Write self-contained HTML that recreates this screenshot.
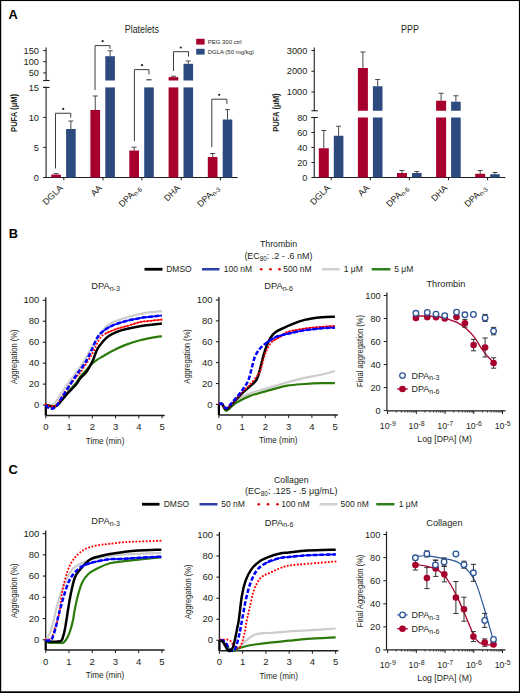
<!DOCTYPE html>
<html><head><meta charset="utf-8"><style>
html,body{margin:0;padding:0;background:#fff;width:520px;height:693px;overflow:hidden}
svg{display:block;font-family:"Liberation Sans", sans-serif}
text{stroke:none}
</style></head><body>
<svg width="520" height="693" viewBox="0 0 520 693">
<rect width="520" height="693" fill="#fff"/>
<rect x="0" y="0" width="520" height="1.05" fill="#000"/>
<rect x="0" y="0" width="1.2" height="693" fill="#000"/>
<rect x="518.9" y="0" width="1.1" height="693" fill="#000"/>
<rect x="0" y="691.3" width="520" height="1.7" fill="#000"/>
<text x="8.6" y="18.7" font-size="12.8" text-anchor="start" font-weight="bold" fill="#000" >A</text>
<text x="8.8" y="238.3" font-size="12.8" text-anchor="start" font-weight="bold" fill="#000" >B</text>
<text x="8.6" y="473.5" font-size="12.8" text-anchor="start" font-weight="bold" fill="#000" >C</text>
<line x1="46.1" y1="47.4" x2="46.1" y2="80.5" stroke="#1e1e1e" stroke-width="1.1" />
<line x1="46.1" y1="87.4" x2="46.1" y2="178" stroke="#1e1e1e" stroke-width="1.1" />
<line x1="43.2" y1="50.6" x2="46.1" y2="50.6" stroke="#1e1e1e" stroke-width="1" />
<text transform="translate(38.9,53.7) scale(1.05,1)" font-size="8.8" text-anchor="end" font-weight="normal" fill="#231f20" >150</text>
<line x1="43.2" y1="61.6" x2="46.1" y2="61.6" stroke="#1e1e1e" stroke-width="1" />
<text transform="translate(38.9,64.7) scale(1.05,1)" font-size="8.8" text-anchor="end" font-weight="normal" fill="#231f20" >100</text>
<line x1="43.2" y1="72.9" x2="46.1" y2="72.9" stroke="#1e1e1e" stroke-width="1" />
<text transform="translate(38.9,76) scale(1.05,1)" font-size="8.8" text-anchor="end" font-weight="normal" fill="#231f20" >50</text>
<line x1="43.2" y1="80.5" x2="49.6" y2="80.5" stroke="#1e1e1e" stroke-width="1.1" />
<line x1="43.2" y1="87.4" x2="49.6" y2="87.4" stroke="#1e1e1e" stroke-width="1.1" />
<line x1="43.2" y1="87.4" x2="46.1" y2="87.4" stroke="#1e1e1e" stroke-width="1" />
<text transform="translate(38.9,90.5) scale(1.05,1)" font-size="8.8" text-anchor="end" font-weight="normal" fill="#231f20" >15</text>
<line x1="43.2" y1="117.4" x2="46.1" y2="117.4" stroke="#1e1e1e" stroke-width="1" />
<text transform="translate(38.9,120.5) scale(1.05,1)" font-size="8.8" text-anchor="end" font-weight="normal" fill="#231f20" >10</text>
<line x1="43.2" y1="147.4" x2="46.1" y2="147.4" stroke="#1e1e1e" stroke-width="1" />
<text transform="translate(38.9,150.5) scale(1.05,1)" font-size="8.8" text-anchor="end" font-weight="normal" fill="#231f20" >5</text>
<line x1="43.2" y1="177.5" x2="46.1" y2="177.5" stroke="#1e1e1e" stroke-width="1" />
<text transform="translate(38.9,180.6) scale(1.05,1)" font-size="8.8" text-anchor="end" font-weight="normal" fill="#231f20" >0</text>
<line x1="46.1" y1="177.5" x2="237.7" y2="177.5" stroke="#1e1e1e" stroke-width="1.1" />
<line x1="63.8" y1="177.5" x2="63.8" y2="180.3" stroke="#1e1e1e" stroke-width="1" />
<line x1="103" y1="177.5" x2="103" y2="180.3" stroke="#1e1e1e" stroke-width="1" />
<line x1="141.9" y1="177.5" x2="141.9" y2="180.3" stroke="#1e1e1e" stroke-width="1" />
<line x1="181.2" y1="177.5" x2="181.2" y2="180.3" stroke="#1e1e1e" stroke-width="1" />
<line x1="220.4" y1="177.5" x2="220.4" y2="180.3" stroke="#1e1e1e" stroke-width="1" />
<text transform="translate(141.8,32.6) scale(0.89,1)" font-size="10" text-anchor="middle" font-weight="normal" fill="#231f20" >Platelets</text>
<rect x="196.2" y="38.8" width="8.4" height="5.8" fill="#a8002c" />
<rect x="196.2" y="48.8" width="8.4" height="5.8" fill="#2d4a7e" />
<text x="207.7" y="44.2" font-size="6.0" text-anchor="start" font-weight="normal" fill="#231f20" >PEG 300 ctrl</text>
<text x="207.7" y="54.2" font-size="6.0" text-anchor="start" font-weight="normal" fill="#231f20" >DGLA (50 mg/kg)</text>
<text transform="translate(16.7,112.9) rotate(-90)" font-size="9.4" font-weight="bold" text-anchor="middle" fill="#231f20" textLength="38" lengthAdjust="spacingAndGlyphs">PUFA (μM)</text>
<line x1="56.05" y1="174.6" x2="56.05" y2="173.6" stroke="#4a4a4a" stroke-width="1" />
<line x1="53.55" y1="173.6" x2="58.55" y2="173.6" stroke="#4a4a4a" stroke-width="1" />
<rect x="51.2" y="174.6" width="9.7" height="2.9" fill="#a8002c" />
<line x1="70.9" y1="129" x2="70.9" y2="121" stroke="#4a4a4a" stroke-width="1" />
<line x1="68.4" y1="121" x2="73.4" y2="121" stroke="#4a4a4a" stroke-width="1" />
<rect x="66.1" y="129" width="9.6" height="48.5" fill="#2d4a7e" />
<line x1="95.25" y1="110" x2="95.25" y2="96" stroke="#4a4a4a" stroke-width="1" />
<line x1="92.75" y1="96" x2="97.75" y2="96" stroke="#4a4a4a" stroke-width="1" />
<rect x="90.4" y="110" width="9.7" height="67.5" fill="#a8002c" />
<rect x="105.3" y="87.4" width="9.6" height="90.1" fill="#2d4a7e" />
<line x1="110.1" y1="56.2" x2="110.1" y2="50.8" stroke="#4a4a4a" stroke-width="1" />
<line x1="107.6" y1="50.8" x2="112.6" y2="50.8" stroke="#4a4a4a" stroke-width="1" />
<rect x="105.3" y="56.2" width="9.6" height="24.3" fill="#2d4a7e" />
<line x1="134.15" y1="150.5" x2="134.15" y2="147.2" stroke="#4a4a4a" stroke-width="1" />
<line x1="131.65" y1="147.2" x2="136.65" y2="147.2" stroke="#4a4a4a" stroke-width="1" />
<rect x="129.3" y="150.5" width="9.7" height="27" fill="#a8002c" />
<rect x="144.2" y="87.4" width="9.6" height="90.1" fill="#2d4a7e" />
<line x1="146.4" y1="79.8" x2="151.6" y2="79.8" stroke="#3a3a3a" stroke-width="1.2" />
<rect x="168.6" y="87.4" width="9.7" height="90.1" fill="#a8002c" />
<line x1="173.45" y1="77.1" x2="173.45" y2="76.2" stroke="#4a4a4a" stroke-width="1" />
<line x1="170.95" y1="76.2" x2="175.95" y2="76.2" stroke="#4a4a4a" stroke-width="1" />
<rect x="168.6" y="77.1" width="9.7" height="3.4" fill="#a8002c" />
<rect x="183.5" y="87.4" width="9.6" height="90.1" fill="#2d4a7e" />
<line x1="188.3" y1="63.8" x2="188.3" y2="61" stroke="#4a4a4a" stroke-width="1" />
<line x1="185.8" y1="61" x2="190.8" y2="61" stroke="#4a4a4a" stroke-width="1" />
<rect x="183.5" y="63.8" width="9.6" height="16.7" fill="#2d4a7e" />
<line x1="212.65" y1="157" x2="212.65" y2="153.5" stroke="#4a4a4a" stroke-width="1" />
<line x1="210.15" y1="153.5" x2="215.15" y2="153.5" stroke="#4a4a4a" stroke-width="1" />
<rect x="207.8" y="157" width="9.7" height="20.5" fill="#a8002c" />
<line x1="227.5" y1="119.5" x2="227.5" y2="109.6" stroke="#4a4a4a" stroke-width="1" />
<line x1="225" y1="109.6" x2="230" y2="109.6" stroke="#4a4a4a" stroke-width="1" />
<rect x="222.7" y="119.5" width="9.6" height="58" fill="#2d4a7e" />
<polyline points="55.5,168.5 55.5,113.25 70.75,113.25 70.75,117.5" fill="none" stroke="#3c3c3c" stroke-width="1"/>
<circle cx="63.25" cy="108.9" r="1.1" fill="#222"/>
<polyline points="95,90 95,45.6 110,45.6 110,48.8" fill="none" stroke="#3c3c3c" stroke-width="1"/>
<circle cx="102.7" cy="41.2" r="1.1" fill="#222"/>
<polyline points="134.4,141.2 134.4,69.6 149,69.6 149,74.4" fill="none" stroke="#3c3c3c" stroke-width="1"/>
<circle cx="142" cy="65.2" r="1.1" fill="#222"/>
<polyline points="173.5,71 173.5,51.7 188.5,51.7 188.5,56.5" fill="none" stroke="#3c3c3c" stroke-width="1"/>
<circle cx="180.8" cy="47.5" r="1.1" fill="#222"/>
<polyline points="211.8,147.2 211.8,99.2 226.9,99.2 226.9,103.8" fill="none" stroke="#3c3c3c" stroke-width="1"/>
<circle cx="219.2" cy="94.8" r="1.1" fill="#222"/>
<text transform="translate(63.3,188.5) rotate(-45)" font-size="8.8" text-anchor="end" fill="#231f20">DGLA</text>
<text transform="translate(102.5,188.5) rotate(-45)" font-size="8.8" text-anchor="end" fill="#231f20">AA</text>
<text transform="translate(141.4,188.5) rotate(-45)" font-size="8.8" text-anchor="end" fill="#231f20">DPA<tspan font-size="6.6" dy="1.8">n-6</tspan></text>
<text transform="translate(180.7,188.5) rotate(-45)" font-size="8.8" text-anchor="end" fill="#231f20">DHA</text>
<text transform="translate(219.9,188.5) rotate(-45)" font-size="8.8" text-anchor="end" fill="#231f20">DPA<tspan font-size="6.6" dy="1.8">n-3</tspan></text>
<line x1="314.25" y1="47.5" x2="314.25" y2="110.75" stroke="#1e1e1e" stroke-width="1.1" />
<line x1="314.25" y1="117.5" x2="314.25" y2="178" stroke="#1e1e1e" stroke-width="1.1" />
<line x1="311.4" y1="50.5" x2="314.25" y2="50.5" stroke="#1e1e1e" stroke-width="1" />
<text transform="translate(307.4,53.6) scale(1.05,1)" font-size="8.8" text-anchor="end" font-weight="normal" fill="#231f20" >3000</text>
<line x1="311.4" y1="71.25" x2="314.25" y2="71.25" stroke="#1e1e1e" stroke-width="1" />
<text transform="translate(307.4,74.35) scale(1.05,1)" font-size="8.8" text-anchor="end" font-weight="normal" fill="#231f20" >2000</text>
<line x1="311.4" y1="92" x2="314.25" y2="92" stroke="#1e1e1e" stroke-width="1" />
<text transform="translate(307.4,95.1) scale(1.05,1)" font-size="8.8" text-anchor="end" font-weight="normal" fill="#231f20" >1000</text>
<line x1="311.4" y1="110.75" x2="317.8" y2="110.75" stroke="#1e1e1e" stroke-width="1.1" />
<line x1="311.4" y1="117.5" x2="317.8" y2="117.5" stroke="#1e1e1e" stroke-width="1.1" />
<line x1="311.4" y1="117.5" x2="314.25" y2="117.5" stroke="#1e1e1e" stroke-width="1" />
<text transform="translate(307.4,120.6) scale(1.05,1)" font-size="8.8" text-anchor="end" font-weight="normal" fill="#231f20" >80</text>
<line x1="311.4" y1="132.5" x2="314.25" y2="132.5" stroke="#1e1e1e" stroke-width="1" />
<text transform="translate(307.4,135.6) scale(1.05,1)" font-size="8.8" text-anchor="end" font-weight="normal" fill="#231f20" >60</text>
<line x1="311.4" y1="147.5" x2="314.25" y2="147.5" stroke="#1e1e1e" stroke-width="1" />
<text transform="translate(307.4,150.6) scale(1.05,1)" font-size="8.8" text-anchor="end" font-weight="normal" fill="#231f20" >40</text>
<line x1="311.4" y1="162.5" x2="314.25" y2="162.5" stroke="#1e1e1e" stroke-width="1" />
<text transform="translate(307.4,165.6) scale(1.05,1)" font-size="8.8" text-anchor="end" font-weight="normal" fill="#231f20" >20</text>
<line x1="311.4" y1="177.5" x2="314.25" y2="177.5" stroke="#1e1e1e" stroke-width="1" />
<text transform="translate(307.4,180.6) scale(1.05,1)" font-size="8.8" text-anchor="end" font-weight="normal" fill="#231f20" >0</text>
<line x1="314.25" y1="177.5" x2="505.5" y2="177.5" stroke="#1e1e1e" stroke-width="1.1" />
<line x1="331.2" y1="177.5" x2="331.2" y2="180.3" stroke="#1e1e1e" stroke-width="1" />
<line x1="370.3" y1="177.5" x2="370.3" y2="180.3" stroke="#1e1e1e" stroke-width="1" />
<line x1="409.4" y1="177.5" x2="409.4" y2="180.3" stroke="#1e1e1e" stroke-width="1" />
<line x1="448.5" y1="177.5" x2="448.5" y2="180.3" stroke="#1e1e1e" stroke-width="1" />
<line x1="487.6" y1="177.5" x2="487.6" y2="180.3" stroke="#1e1e1e" stroke-width="1" />
<text transform="translate(410,32.6) scale(0.89,1)" font-size="10" text-anchor="middle" font-weight="normal" fill="#231f20" >PPP</text>
<text transform="translate(279.3,112.6) rotate(-90)" font-size="9.4" font-weight="bold" text-anchor="middle" fill="#231f20" textLength="38.5" lengthAdjust="spacingAndGlyphs">PUFA (μM)</text>
<line x1="323.8" y1="148.25" x2="323.8" y2="130.5" stroke="#4a4a4a" stroke-width="1" />
<line x1="321.3" y1="130.5" x2="326.3" y2="130.5" stroke="#4a4a4a" stroke-width="1" />
<rect x="318.8" y="148.25" width="10" height="29.25" fill="#a8002c" />
<line x1="338.6" y1="135.75" x2="338.6" y2="126.25" stroke="#4a4a4a" stroke-width="1" />
<line x1="336.1" y1="126.25" x2="341.1" y2="126.25" stroke="#4a4a4a" stroke-width="1" />
<rect x="333.8" y="135.75" width="9.6" height="41.75" fill="#2d4a7e" />
<rect x="357.9" y="117.5" width="10" height="60" fill="#a8002c" />
<line x1="362.9" y1="68" x2="362.9" y2="52" stroke="#4a4a4a" stroke-width="1" />
<line x1="360.4" y1="52" x2="365.4" y2="52" stroke="#4a4a4a" stroke-width="1" />
<rect x="357.9" y="68" width="10" height="42.75" fill="#a8002c" />
<rect x="372.9" y="117.5" width="9.6" height="60" fill="#2d4a7e" />
<line x1="377.7" y1="86.25" x2="377.7" y2="79.5" stroke="#4a4a4a" stroke-width="1" />
<line x1="375.2" y1="79.5" x2="380.2" y2="79.5" stroke="#4a4a4a" stroke-width="1" />
<rect x="372.9" y="86.25" width="9.6" height="24.5" fill="#2d4a7e" />
<line x1="402" y1="173" x2="402" y2="170.5" stroke="#4a4a4a" stroke-width="1" />
<line x1="399.5" y1="170.5" x2="404.5" y2="170.5" stroke="#4a4a4a" stroke-width="1" />
<rect x="397" y="173" width="10" height="4.5" fill="#a8002c" />
<line x1="416.8" y1="173" x2="416.8" y2="171.5" stroke="#4a4a4a" stroke-width="1" />
<line x1="414.3" y1="171.5" x2="419.3" y2="171.5" stroke="#4a4a4a" stroke-width="1" />
<rect x="412" y="173" width="9.6" height="4.5" fill="#2d4a7e" />
<rect x="436.1" y="117.5" width="10" height="60" fill="#a8002c" />
<line x1="441.1" y1="100.75" x2="441.1" y2="93.25" stroke="#4a4a4a" stroke-width="1" />
<line x1="438.6" y1="93.25" x2="443.6" y2="93.25" stroke="#4a4a4a" stroke-width="1" />
<rect x="436.1" y="100.75" width="10" height="10" fill="#a8002c" />
<rect x="451.1" y="117.5" width="9.6" height="60" fill="#2d4a7e" />
<line x1="455.9" y1="101.75" x2="455.9" y2="95.75" stroke="#4a4a4a" stroke-width="1" />
<line x1="453.4" y1="95.75" x2="458.4" y2="95.75" stroke="#4a4a4a" stroke-width="1" />
<rect x="451.1" y="101.75" width="9.6" height="9" fill="#2d4a7e" />
<line x1="480.2" y1="173.75" x2="480.2" y2="170.5" stroke="#4a4a4a" stroke-width="1" />
<line x1="477.7" y1="170.5" x2="482.7" y2="170.5" stroke="#4a4a4a" stroke-width="1" />
<rect x="475.2" y="173.75" width="10" height="3.75" fill="#a8002c" />
<line x1="495" y1="174.25" x2="495" y2="172.5" stroke="#4a4a4a" stroke-width="1" />
<line x1="492.5" y1="172.5" x2="497.5" y2="172.5" stroke="#4a4a4a" stroke-width="1" />
<rect x="490.2" y="174.25" width="9.6" height="3.25" fill="#2d4a7e" />
<text transform="translate(330.7,188.5) rotate(-45)" font-size="8.8" text-anchor="end" fill="#231f20">DGLA</text>
<text transform="translate(369.8,188.5) rotate(-45)" font-size="8.8" text-anchor="end" fill="#231f20">AA</text>
<text transform="translate(408.9,188.5) rotate(-45)" font-size="8.8" text-anchor="end" fill="#231f20">DPA<tspan font-size="6.6" dy="1.8">n-6</tspan></text>
<text transform="translate(448,188.5) rotate(-45)" font-size="8.8" text-anchor="end" fill="#231f20">DHA</text>
<text transform="translate(487.1,188.5) rotate(-45)" font-size="8.8" text-anchor="end" fill="#231f20">DPA<tspan font-size="6.6" dy="1.8">n-3</tspan></text>
<text transform="translate(278.5,247) scale(0.89,1)" font-size="9.9" text-anchor="middle" font-weight="normal" fill="#231f20" >Thrombin</text>
<text transform="translate(278.4,258.7) scale(0.93,1)" font-size="9.6" text-anchor="middle" font-weight="normal" fill="#231f20" >(EC<tspan font-size="6.8" dy="1.8">80</tspan><tspan dy="-1.8">: .2 - .6 nM)</tspan></text>
<line x1="144.5" y1="269.25" x2="162.5" y2="269.25" stroke="#000" stroke-width="2.8" />
<text x="166.2" y="272.25" font-size="8.5" text-anchor="start" font-weight="normal" fill="#231f20" >DMSO</text>
<line x1="202" y1="269.25" x2="219.5" y2="269.25" stroke="#2a40a8" stroke-width="2.5" />
<text x="223.7" y="272.25" font-size="8.5" text-anchor="start" font-weight="normal" fill="#231f20" >100 nM</text>
<circle cx="261.25" cy="269.25" r="1.3" fill="#e00000"/>
<circle cx="270.5" cy="269.25" r="1.3" fill="#e00000"/>
<circle cx="279.5" cy="269.25" r="1.3" fill="#e00000"/>
<text x="283.2" y="272.25" font-size="8.5" text-anchor="start" font-weight="normal" fill="#231f20" >500 nM</text>
<line x1="322" y1="269.25" x2="339.5" y2="269.25" stroke="#d0d0d0" stroke-width="2.5" />
<text x="343.7" y="272.25" font-size="8.5" text-anchor="start" font-weight="normal" fill="#231f20" >1 μM</text>
<line x1="371.7" y1="269.25" x2="390.4" y2="269.25" stroke="#2f7f1a" stroke-width="2.5" />
<text x="394.2" y="272.25" font-size="8.5" text-anchor="start" font-weight="normal" fill="#231f20" >5 μM</text>
<text transform="translate(291.25,483) scale(0.89,1)" font-size="9.9" text-anchor="middle" font-weight="normal" fill="#231f20" >Collagen</text>
<text transform="translate(291.25,493.7) scale(0.95,1)" font-size="9.6" text-anchor="middle" font-weight="normal" fill="#231f20" >(EC<tspan font-size="6.8" dy="1.8">80</tspan><tspan dy="-1.8">: .125 - .5 μg/mL)</tspan></text>
<line x1="142" y1="504.25" x2="159.5" y2="504.25" stroke="#000" stroke-width="2.8" />
<text x="163.7" y="507.25" font-size="8.5" text-anchor="start" font-weight="normal" fill="#231f20" >DMSO</text>
<line x1="199.5" y1="504.25" x2="217.5" y2="504.25" stroke="#2a40a8" stroke-width="2.5" />
<text x="221.2" y="507.25" font-size="8.5" text-anchor="start" font-weight="normal" fill="#231f20" >50 nM</text>
<circle cx="258.75" cy="504.25" r="1.3" fill="#e00000"/>
<circle cx="268" cy="504.25" r="1.3" fill="#e00000"/>
<circle cx="277.5" cy="504.25" r="1.3" fill="#e00000"/>
<text x="281.2" y="507.25" font-size="8.5" text-anchor="start" font-weight="normal" fill="#231f20" >100 nM</text>
<line x1="319.5" y1="504.25" x2="337.5" y2="504.25" stroke="#d0d0d0" stroke-width="2.5" />
<text x="340.5" y="507.25" font-size="8.5" text-anchor="start" font-weight="normal" fill="#231f20" >500 nM</text>
<line x1="376.25" y1="504.25" x2="394.5" y2="504.25" stroke="#2f7f1a" stroke-width="2.5" />
<text x="398.7" y="507.25" font-size="8.5" text-anchor="start" font-weight="normal" fill="#231f20" >1 μM</text>
<line x1="45.8" y1="297.3" x2="45.8" y2="415.4" stroke="#1e1e1e" stroke-width="1.3" />
<line x1="45.8" y1="405.1" x2="45.8" y2="415.4" stroke="#000" stroke-width="2.2" />
<line x1="42.8" y1="405.1" x2="45.8" y2="405.1" stroke="#1e1e1e" stroke-width="1.1" />
<text transform="translate(39.4,408.2) scale(1.07,1)" font-size="8.9" text-anchor="end" font-weight="normal" fill="#231f20" >0</text>
<line x1="42.8" y1="384.14" x2="45.8" y2="384.14" stroke="#1e1e1e" stroke-width="1.1" />
<text transform="translate(39.4,387.24) scale(1.07,1)" font-size="8.9" text-anchor="end" font-weight="normal" fill="#231f20" >20</text>
<line x1="42.8" y1="363.18" x2="45.8" y2="363.18" stroke="#1e1e1e" stroke-width="1.1" />
<text transform="translate(39.4,366.28) scale(1.07,1)" font-size="8.9" text-anchor="end" font-weight="normal" fill="#231f20" >40</text>
<line x1="42.8" y1="342.22" x2="45.8" y2="342.22" stroke="#1e1e1e" stroke-width="1.1" />
<text transform="translate(39.4,345.32) scale(1.07,1)" font-size="8.9" text-anchor="end" font-weight="normal" fill="#231f20" >60</text>
<line x1="42.8" y1="321.26" x2="45.8" y2="321.26" stroke="#1e1e1e" stroke-width="1.1" />
<text transform="translate(39.4,324.36) scale(1.07,1)" font-size="8.9" text-anchor="end" font-weight="normal" fill="#231f20" >80</text>
<line x1="42.8" y1="300.3" x2="45.8" y2="300.3" stroke="#1e1e1e" stroke-width="1.1" />
<text transform="translate(39.4,303.4) scale(1.07,1)" font-size="8.9" text-anchor="end" font-weight="normal" fill="#231f20" >100</text>
<line x1="45.8" y1="415.4" x2="164.75" y2="415.4" stroke="#1e1e1e" stroke-width="1.5" />
<line x1="45.8" y1="415.4" x2="45.8" y2="418.4" stroke="#1e1e1e" stroke-width="1" />
<text transform="translate(45.8,430) scale(1.07,1)" font-size="8.9" text-anchor="middle" font-weight="normal" fill="#231f20" >0</text>
<line x1="69.05" y1="415.4" x2="69.05" y2="418.4" stroke="#1e1e1e" stroke-width="1" />
<text transform="translate(69.05,430) scale(1.07,1)" font-size="8.9" text-anchor="middle" font-weight="normal" fill="#231f20" >1</text>
<line x1="92.3" y1="415.4" x2="92.3" y2="418.4" stroke="#1e1e1e" stroke-width="1" />
<text transform="translate(92.3,430) scale(1.07,1)" font-size="8.9" text-anchor="middle" font-weight="normal" fill="#231f20" >2</text>
<line x1="115.55" y1="415.4" x2="115.55" y2="418.4" stroke="#1e1e1e" stroke-width="1" />
<text transform="translate(115.55,430) scale(1.07,1)" font-size="8.9" text-anchor="middle" font-weight="normal" fill="#231f20" >3</text>
<line x1="138.8" y1="415.4" x2="138.8" y2="418.4" stroke="#1e1e1e" stroke-width="1" />
<text transform="translate(138.8,430) scale(1.07,1)" font-size="8.9" text-anchor="middle" font-weight="normal" fill="#231f20" >4</text>
<line x1="162.05" y1="415.4" x2="162.05" y2="418.4" stroke="#1e1e1e" stroke-width="1" />
<text transform="translate(162.05,430) scale(1.07,1)" font-size="8.9" text-anchor="middle" font-weight="normal" fill="#231f20" >5</text>
<text x="105.1" y="443.6" font-size="9.2" text-anchor="middle" font-weight="normal" fill="#231f20" textLength="38.5" lengthAdjust="spacingAndGlyphs">Time (min)</text>
<text transform="translate(17.2,356.75) rotate(-90)" font-size="9.2" text-anchor="middle" fill="#231f20" textLength="54.5" lengthAdjust="spacingAndGlyphs">Aggregation (%)</text>
<text x="105.5" y="288.8" font-size="9.3" text-anchor="middle" font-weight="normal" fill="#231f20" >DPA<tspan font-size="7.0" dy="1.8">n-3</tspan></text>
<path d="M45.7,405 C46.42,405 48.55,405.25 50,405 C51.45,404.75 52.47,405.5 54.4,403.5 C56.33,401.5 59.18,396.55 61.6,393 C64.02,389.45 66.25,385.87 68.9,382.2 C71.55,378.53 74.82,374.78 77.5,371 C80.18,367.22 82.58,363.5 85,359.5 C87.42,355.5 89.5,351.17 92,347 C94.5,342.83 97.77,337.75 100,334.5 C102.23,331.25 103.53,329.42 105.4,327.5 C107.27,325.58 107.73,324.67 111.2,323 C114.67,321.33 121.4,319 126.2,317.5 C131,316 136.52,314.82 140,314 C143.48,313.18 143.45,313.08 147.1,312.6 C150.75,312.12 159.43,311.35 161.9,311.1" fill="none" stroke="#cccccc" stroke-width="2.2" stroke-linecap="butt" stroke-linejoin="round" />
<path d="M45.7,405 C46.42,405.17 48.55,405.75 50,406 C51.45,406.25 52.93,407 54.4,406.5 C55.87,406 56.87,405.08 58.8,403 C60.73,400.92 63.12,397.33 66,394 C68.88,390.67 73.77,385.83 76.1,383 C78.43,380.17 78.35,379.08 80,377 C81.65,374.92 84.08,372.63 86,370.5 C87.92,368.37 89.67,365.98 91.5,364.2 C93.33,362.42 95.07,361.13 97,359.8 C98.93,358.47 100.17,357.87 103.1,356.2 C106.03,354.53 110.75,351.73 114.6,349.8 C118.45,347.87 121.97,346.2 126.2,344.6 C130.43,343 135.4,341.42 140,340.2 C144.6,338.98 150.15,337.95 153.8,337.3 C157.45,336.65 160.55,336.47 161.9,336.3" fill="none" stroke="#2b7a0b" stroke-width="2.2" stroke-linecap="butt" stroke-linejoin="round" />
<path d="M45.7,405.2 C46.43,405.33 48.65,405.75 50.1,406 C51.55,406.25 52.95,407.07 54.4,406.7 C55.85,406.33 56.87,405.73 58.8,403.8 C60.73,401.87 63.12,398.32 66,395.1 C68.88,391.88 73.77,387.22 76.1,384.5 C78.43,381.78 78.2,381.02 80,378.8 C81.8,376.58 84.78,374.2 86.9,371.2 C89.02,368.2 90.97,364.47 92.7,360.8 C94.43,357.13 95.57,352.47 97.3,349.2 C99.03,345.93 101.18,343.4 103.1,341.2 C105.02,339 106.5,337.55 108.8,336 C111.1,334.45 114,333.07 116.9,331.9 C119.8,330.73 122.35,329.95 126.2,329 C130.05,328.05 134.05,327.1 140,326.2 C145.95,325.3 158.25,324.03 161.9,323.6" fill="none" stroke="#000000" stroke-width="2.5" stroke-linecap="butt" stroke-linejoin="round" />
<path d="M45.7,404 C46.42,404.33 48.3,405.75 50,406 C51.7,406.25 53.97,406.92 55.9,405.5 C57.83,404.08 59.43,400.75 61.6,397.5 C63.77,394.25 66.25,389.67 68.9,386 C71.55,382.33 75.65,377.68 77.5,375.5 C79.35,373.32 77.67,376.32 80,372.9 C82.33,369.48 88.23,360.68 91.5,355 C94.77,349.32 97.28,342.35 99.6,338.8 C101.92,335.25 102.9,335.23 105.4,333.7 C107.9,332.17 111.13,330.85 114.6,329.6 C118.07,328.35 121.97,327.45 126.2,326.2 C130.43,324.95 136.52,322.93 140,322.1 C143.48,321.27 143.45,321.62 147.1,321.2 C150.75,320.78 159.43,319.87 161.9,319.6" fill="none" stroke="#ff0000" stroke-width="2.1" stroke-linecap="round" stroke-linejoin="round" stroke-dasharray="0.01,3.4"/>
<path d="M105.4,333.7 C106.93,333.02 111.13,330.85 114.6,329.6 C118.07,328.35 121.97,327.45 126.2,326.2 C130.43,324.95 136.52,322.93 140,322.1 C143.48,321.27 143.45,321.62 147.1,321.2 C150.75,320.78 159.43,319.87 161.9,319.6" fill="none" stroke="#ff0000" stroke-width="1.2" stroke-linecap="butt" stroke-linejoin="round" />
<path d="M45.7,405 C46.43,405.63 48.4,408.52 50.1,408.8 C51.8,409.08 53.98,408.5 55.9,406.7 C57.82,404.9 59.43,401.37 61.6,398 C63.77,394.63 66.25,390.58 68.9,386.5 C71.55,382.42 75.65,376.25 77.5,373.5 C79.35,370.75 78.62,371.93 80,370 C81.38,368.07 83.88,365.17 85.8,361.9 C87.72,358.63 89.58,354.43 91.5,350.4 C93.42,346.37 95.37,340.88 97.3,337.7 C99.23,334.52 100.6,333.32 103.1,331.3 C105.6,329.28 108.45,327.32 112.3,325.6 C116.15,323.88 121.58,322.25 126.2,321 C130.82,319.75 136.52,318.75 140,318.1 C143.48,317.45 143.45,317.53 147.1,317.1 C150.75,316.67 159.43,315.77 161.9,315.5" fill="none" stroke="#0000ff" stroke-width="2.5" stroke-linecap="butt" stroke-linejoin="round" stroke-dasharray="4.5,2"/>
<path d="M103.1,331.3 C104.63,330.35 108.45,327.32 112.3,325.6 C116.15,323.88 121.58,322.25 126.2,321 C130.82,319.75 136.52,318.75 140,318.1 C143.48,317.45 143.45,317.53 147.1,317.1 C150.75,316.67 159.43,315.77 161.9,315.5" fill="none" stroke="#0000ff" stroke-width="1.6" stroke-linecap="butt" stroke-linejoin="round" />
<line x1="218.9" y1="297" x2="218.9" y2="415" stroke="#1e1e1e" stroke-width="1.3" />
<line x1="218.9" y1="404.4" x2="218.9" y2="415" stroke="#000" stroke-width="2.2" />
<line x1="215.9" y1="404.4" x2="218.9" y2="404.4" stroke="#1e1e1e" stroke-width="1.1" />
<text transform="translate(212.5,407.5) scale(1.07,1)" font-size="8.9" text-anchor="end" font-weight="normal" fill="#231f20" >0</text>
<line x1="215.9" y1="383.52" x2="218.9" y2="383.52" stroke="#1e1e1e" stroke-width="1.1" />
<text transform="translate(212.5,386.62) scale(1.07,1)" font-size="8.9" text-anchor="end" font-weight="normal" fill="#231f20" >20</text>
<line x1="215.9" y1="362.64" x2="218.9" y2="362.64" stroke="#1e1e1e" stroke-width="1.1" />
<text transform="translate(212.5,365.74) scale(1.07,1)" font-size="8.9" text-anchor="end" font-weight="normal" fill="#231f20" >40</text>
<line x1="215.9" y1="341.76" x2="218.9" y2="341.76" stroke="#1e1e1e" stroke-width="1.1" />
<text transform="translate(212.5,344.86) scale(1.07,1)" font-size="8.9" text-anchor="end" font-weight="normal" fill="#231f20" >60</text>
<line x1="215.9" y1="320.88" x2="218.9" y2="320.88" stroke="#1e1e1e" stroke-width="1.1" />
<text transform="translate(212.5,323.98) scale(1.07,1)" font-size="8.9" text-anchor="end" font-weight="normal" fill="#231f20" >80</text>
<line x1="215.9" y1="300" x2="218.9" y2="300" stroke="#1e1e1e" stroke-width="1.1" />
<text transform="translate(212.5,303.1) scale(1.07,1)" font-size="8.9" text-anchor="end" font-weight="normal" fill="#231f20" >100</text>
<line x1="218.9" y1="415" x2="337.85" y2="415" stroke="#1e1e1e" stroke-width="1.5" />
<line x1="218.9" y1="415" x2="218.9" y2="418" stroke="#1e1e1e" stroke-width="1" />
<text transform="translate(218.9,429.6) scale(1.07,1)" font-size="8.9" text-anchor="middle" font-weight="normal" fill="#231f20" >0</text>
<line x1="242.15" y1="415" x2="242.15" y2="418" stroke="#1e1e1e" stroke-width="1" />
<text transform="translate(242.15,429.6) scale(1.07,1)" font-size="8.9" text-anchor="middle" font-weight="normal" fill="#231f20" >1</text>
<line x1="265.4" y1="415" x2="265.4" y2="418" stroke="#1e1e1e" stroke-width="1" />
<text transform="translate(265.4,429.6) scale(1.07,1)" font-size="8.9" text-anchor="middle" font-weight="normal" fill="#231f20" >2</text>
<line x1="288.65" y1="415" x2="288.65" y2="418" stroke="#1e1e1e" stroke-width="1" />
<text transform="translate(288.65,429.6) scale(1.07,1)" font-size="8.9" text-anchor="middle" font-weight="normal" fill="#231f20" >3</text>
<line x1="311.9" y1="415" x2="311.9" y2="418" stroke="#1e1e1e" stroke-width="1" />
<text transform="translate(311.9,429.6) scale(1.07,1)" font-size="8.9" text-anchor="middle" font-weight="normal" fill="#231f20" >4</text>
<line x1="335.15" y1="415" x2="335.15" y2="418" stroke="#1e1e1e" stroke-width="1" />
<text transform="translate(335.15,429.6) scale(1.07,1)" font-size="8.9" text-anchor="middle" font-weight="normal" fill="#231f20" >5</text>
<text x="278.2" y="443.2" font-size="9.2" text-anchor="middle" font-weight="normal" fill="#231f20" textLength="38.5" lengthAdjust="spacingAndGlyphs">Time (min)</text>
<text transform="translate(190.3,356.4) rotate(-90)" font-size="9.2" text-anchor="middle" fill="#231f20" textLength="54.5" lengthAdjust="spacingAndGlyphs">Aggregation (%)</text>
<text x="278.5" y="288.8" font-size="9.3" text-anchor="middle" font-weight="normal" fill="#231f20" >DPA<tspan font-size="7.0" dy="1.8">n-6</tspan></text>
<path d="M219,404 C219.5,404 220.78,403.15 222,404 C223.22,404.85 224,409.7 226.3,409.1 C228.6,408.5 231.92,403 235.8,400.4 C239.68,397.8 244.4,395.52 249.6,393.5 C254.8,391.48 260.72,390.17 267,388.3 C273.28,386.43 281.03,384.03 287.3,382.3 C293.57,380.57 298.83,379.2 304.6,377.9 C310.37,376.6 316.85,375.65 321.9,374.5 C326.95,373.35 332.73,371.58 334.9,371" fill="none" stroke="#cccccc" stroke-width="2.2" stroke-linecap="butt" stroke-linejoin="round" />
<path d="M219,404 C219.5,404 220.78,402.87 222,404 C223.22,405.13 224,410.97 226.3,410.8 C228.6,410.63 231.92,405.45 235.8,403 C239.68,400.55 244.4,398.12 249.6,396.1 C254.8,394.08 260.72,392.63 267,390.9 C273.28,389.17 281.03,386.85 287.3,385.7 C293.57,384.55 298.83,384.43 304.6,384 C310.37,383.57 316.85,383.25 321.9,383.1 C326.95,382.95 332.73,383.1 334.9,383.1" fill="none" stroke="#2b7a0b" stroke-width="2.2" stroke-linecap="butt" stroke-linejoin="round" />
<path d="M219,404.4 C219.48,404.32 220.68,403.12 221.9,403.9 C223.12,404.68 224.57,409.1 226.3,409.1 C228.03,409.1 229.85,406.35 232.3,403.9 C234.75,401.45 238.12,397.28 241,394.4 C243.88,391.52 247,389.05 249.6,386.6 C252.2,384.15 254.87,382.58 256.6,379.7 C258.33,376.82 258.85,373.35 260,369.3 C261.15,365.25 262.33,359.45 263.5,355.4 C264.67,351.35 265.85,347.9 267,345 C268.15,342.1 268.97,340.17 270.4,338 C271.83,335.83 273.28,333.72 275.6,332 C277.92,330.28 281.9,328.85 284.3,327.7 C286.7,326.55 286.62,326.4 290,325.1 C293.38,323.8 299.28,321.2 304.6,319.9 C309.92,318.6 316.85,317.82 321.9,317.3 C326.95,316.78 332.73,316.88 334.9,316.8" fill="none" stroke="#000000" stroke-width="2.5" stroke-linecap="butt" stroke-linejoin="round" />
<path d="M219,404 C219.48,404 220.68,403.25 221.9,404 C223.12,404.75 224.57,408.58 226.3,408.5 C228.03,408.42 229.85,406 232.3,403.5 C234.75,401 238.12,396.58 241,393.5 C243.88,390.42 247,387.83 249.6,385 C252.2,382.17 254.9,378.67 256.6,376.5 C258.3,374.33 258.9,373.92 259.8,372 C260.7,370.08 261.22,367.67 262,365 C262.78,362.33 263.58,358.75 264.5,356 C265.42,353.25 266.23,350.9 267.5,348.5 C268.77,346.1 269.88,343.62 272.1,341.6 C274.32,339.58 278.27,338 280.8,336.4 C283.33,334.8 283.33,333.3 287.3,332 C291.27,330.7 298.83,329.47 304.6,328.6 C310.37,327.73 316.85,327.23 321.9,326.8 C326.95,326.37 332.73,326.13 334.9,326" fill="none" stroke="#ff0000" stroke-width="2.1" stroke-linecap="round" stroke-linejoin="round" stroke-dasharray="0.01,3.4"/>
<path d="M272.1,341.6 C273.55,340.73 278.27,338 280.8,336.4 C283.33,334.8 283.33,333.3 287.3,332 C291.27,330.7 298.83,329.47 304.6,328.6 C310.37,327.73 316.85,327.23 321.9,326.8 C326.95,326.37 332.73,326.13 334.9,326" fill="none" stroke="#ff0000" stroke-width="1.2" stroke-linecap="butt" stroke-linejoin="round" />
<path d="M219,403.9 C219.48,403.9 220.68,403.18 221.9,403.9 C223.12,404.62 224.57,408.48 226.3,408.2 C228.03,407.92 229.85,404.93 232.3,402.2 C234.75,399.47 238.4,395.27 241,391.8 C243.6,388.33 246.17,385.15 247.9,381.4 C249.63,377.65 250.25,373.35 251.4,369.3 C252.55,365.25 253.37,360.57 254.8,357.1 C256.23,353.63 257.97,350.95 260,348.5 C262.03,346.05 264.4,344.28 267,342.4 C269.6,340.52 272.72,338.5 275.6,337.2 C278.48,335.9 281.9,335.27 284.3,334.6 C286.7,333.93 286.62,333.92 290,333.2 C293.38,332.48 299.28,331.13 304.6,330.3 C309.92,329.47 316.85,328.63 321.9,328.2 C326.95,327.77 332.73,327.78 334.9,327.7" fill="none" stroke="#0000ff" stroke-width="2.5" stroke-linecap="butt" stroke-linejoin="round" stroke-dasharray="4.5,2"/>
<path d="M267,342.4 C268.43,341.53 272.72,338.5 275.6,337.2 C278.48,335.9 281.9,335.27 284.3,334.6 C286.7,333.93 286.62,333.92 290,333.2 C293.38,332.48 299.28,331.13 304.6,330.3 C309.92,329.47 316.85,328.63 321.9,328.2 C326.95,327.77 332.73,327.78 334.9,327.7" fill="none" stroke="#0000ff" stroke-width="1.6" stroke-linecap="butt" stroke-linejoin="round" />
<line x1="45.7" y1="530.6" x2="45.7" y2="650" stroke="#1e1e1e" stroke-width="1.3" />
<line x1="45.7" y1="639.8" x2="45.7" y2="650" stroke="#000" stroke-width="2.2" />
<line x1="42.7" y1="639.8" x2="45.7" y2="639.8" stroke="#1e1e1e" stroke-width="1.1" />
<text transform="translate(39.3,642.9) scale(1.07,1)" font-size="8.9" text-anchor="end" font-weight="normal" fill="#231f20" >0</text>
<line x1="42.7" y1="618.56" x2="45.7" y2="618.56" stroke="#1e1e1e" stroke-width="1.1" />
<text transform="translate(39.3,621.66) scale(1.07,1)" font-size="8.9" text-anchor="end" font-weight="normal" fill="#231f20" >20</text>
<line x1="42.7" y1="597.32" x2="45.7" y2="597.32" stroke="#1e1e1e" stroke-width="1.1" />
<text transform="translate(39.3,600.42) scale(1.07,1)" font-size="8.9" text-anchor="end" font-weight="normal" fill="#231f20" >40</text>
<line x1="42.7" y1="576.08" x2="45.7" y2="576.08" stroke="#1e1e1e" stroke-width="1.1" />
<text transform="translate(39.3,579.18) scale(1.07,1)" font-size="8.9" text-anchor="end" font-weight="normal" fill="#231f20" >60</text>
<line x1="42.7" y1="554.84" x2="45.7" y2="554.84" stroke="#1e1e1e" stroke-width="1.1" />
<text transform="translate(39.3,557.94) scale(1.07,1)" font-size="8.9" text-anchor="end" font-weight="normal" fill="#231f20" >80</text>
<line x1="42.7" y1="533.6" x2="45.7" y2="533.6" stroke="#1e1e1e" stroke-width="1.1" />
<text transform="translate(39.3,536.7) scale(1.07,1)" font-size="8.9" text-anchor="end" font-weight="normal" fill="#231f20" >100</text>
<line x1="45.7" y1="650" x2="164.65" y2="650" stroke="#1e1e1e" stroke-width="1.5" />
<line x1="45.7" y1="650" x2="45.7" y2="653" stroke="#1e1e1e" stroke-width="1" />
<text transform="translate(45.7,664.6) scale(1.07,1)" font-size="8.9" text-anchor="middle" font-weight="normal" fill="#231f20" >0</text>
<line x1="68.95" y1="650" x2="68.95" y2="653" stroke="#1e1e1e" stroke-width="1" />
<text transform="translate(68.95,664.6) scale(1.07,1)" font-size="8.9" text-anchor="middle" font-weight="normal" fill="#231f20" >1</text>
<line x1="92.2" y1="650" x2="92.2" y2="653" stroke="#1e1e1e" stroke-width="1" />
<text transform="translate(92.2,664.6) scale(1.07,1)" font-size="8.9" text-anchor="middle" font-weight="normal" fill="#231f20" >2</text>
<line x1="115.45" y1="650" x2="115.45" y2="653" stroke="#1e1e1e" stroke-width="1" />
<text transform="translate(115.45,664.6) scale(1.07,1)" font-size="8.9" text-anchor="middle" font-weight="normal" fill="#231f20" >3</text>
<line x1="138.7" y1="650" x2="138.7" y2="653" stroke="#1e1e1e" stroke-width="1" />
<text transform="translate(138.7,664.6) scale(1.07,1)" font-size="8.9" text-anchor="middle" font-weight="normal" fill="#231f20" >4</text>
<line x1="161.95" y1="650" x2="161.95" y2="653" stroke="#1e1e1e" stroke-width="1" />
<text transform="translate(161.95,664.6) scale(1.07,1)" font-size="8.9" text-anchor="middle" font-weight="normal" fill="#231f20" >5</text>
<text x="105" y="678.2" font-size="9.2" text-anchor="middle" font-weight="normal" fill="#231f20" textLength="38.5" lengthAdjust="spacingAndGlyphs">Time (min)</text>
<text transform="translate(17.1,590.7) rotate(-90)" font-size="9.2" text-anchor="middle" fill="#231f20" textLength="54.5" lengthAdjust="spacingAndGlyphs">Aggregation (%)</text>
<text x="105.5" y="524.3" font-size="9.3" text-anchor="middle" font-weight="normal" fill="#231f20" >DPA<tspan font-size="7.0" dy="1.8">n-3</tspan></text>
<path d="M45.7,639.5 C46.03,639.17 46.73,639.28 47.7,637.5 C48.67,635.72 50.38,632.22 51.5,628.8 C52.62,625.38 53.43,620.97 54.4,617 C55.37,613.03 56.12,609.25 57.3,605 C58.48,600.75 59.83,596.05 61.5,591.5 C63.17,586.95 65.37,581.53 67.3,577.7 C69.23,573.87 70.6,571 73.1,568.5 C75.6,566 78.85,564.33 82.3,562.7 C85.75,561.07 89.18,559.85 93.8,558.7 C98.42,557.55 104.98,556.5 110,555.8 C115.02,555.1 119.18,554.83 123.9,554.5 C128.62,554.17 132.05,554.05 138.3,553.8 C144.55,553.55 157.55,553.13 161.4,553" fill="none" stroke="#cccccc" stroke-width="2.2" stroke-linecap="butt" stroke-linejoin="round" />
<path d="M45.7,641 C46.35,641.3 47.02,642.5 49.6,642.8 C52.18,643.1 58.8,642.88 61.2,642.8 C63.6,642.72 62.88,643.35 64,642.3 C65.12,641.25 66.77,638.75 67.9,636.5 C69.03,634.25 69.92,631.68 70.8,628.8 C71.68,625.92 72.58,622.17 73.2,619.2 C73.82,616.23 73.75,614.83 74.5,611 C75.25,607.17 76.4,600.98 77.7,596.2 C79,591.42 80.57,585.97 82.3,582.3 C84.03,578.63 85.78,576.42 88.1,574.2 C90.42,571.98 92.55,570.82 96.2,569 C99.85,567.18 104.18,564.75 110,563.3 C115.82,561.85 125.18,561.05 131.1,560.3 C137.02,559.55 140.45,559.28 145.5,558.8 C150.55,558.32 158.75,557.63 161.4,557.4" fill="none" stroke="#2b7a0b" stroke-width="2.2" stroke-linecap="butt" stroke-linejoin="round" />
<path d="M45.7,641.3 C48.12,641.3 57.3,642.1 60.2,641.3 C63.1,640.5 62.3,638.58 63.1,636.5 C63.9,634.42 64.37,632 65,628.8 C65.63,625.6 66.4,620.43 66.9,617.3 C67.4,614.17 67.35,613.92 68,610 C68.65,606.08 69.67,599.18 70.8,593.8 C71.93,588.42 73.27,581.73 74.8,577.7 C76.33,573.67 77.4,572.68 80,569.6 C82.6,566.52 86.75,561.5 90.4,559.2 C94.05,556.9 98.63,556.67 101.9,555.8 C105.17,554.93 106.33,554.63 110,554 C113.67,553.37 119.18,552.57 123.9,552 C128.62,551.43 132.05,550.98 138.3,550.6 C144.55,550.22 157.55,549.85 161.4,549.7" fill="none" stroke="#000000" stroke-width="2.5" stroke-linecap="butt" stroke-linejoin="round" />
<path d="M45.7,639.5 C46.42,639.5 49.03,639.67 50,639.5 C50.97,639.33 50.67,640.42 51.5,638.5 C52.33,636.58 53.87,631.53 55,628 C56.13,624.47 57.47,620.63 58.3,617.3 C59.13,613.97 59.47,611.52 60,608 C60.53,604.48 60.87,600.1 61.5,596.2 C62.13,592.3 62.83,588.65 63.8,584.6 C64.77,580.55 66.05,575.55 67.3,571.9 C68.55,568.25 69.77,565.38 71.3,562.7 C72.83,560.02 74.47,557.92 76.5,555.8 C78.53,553.68 81.12,551.48 83.5,550 C85.88,548.52 88.05,547.75 90.8,546.9 C93.55,546.05 96.9,545.4 100,544.9 C103.1,544.4 105.42,544.35 109.4,543.9 C113.38,543.45 119.08,542.6 123.9,542.2 C128.72,541.8 132.17,541.73 138.3,541.5 C144.43,541.27 156.97,540.92 160.7,540.8" fill="none" stroke="#ff0000" stroke-width="2.1" stroke-linecap="round" stroke-linejoin="round" stroke-dasharray="0.01,3.4"/>
<path d="M45.7,640.4 C46.52,640.4 49.47,640.88 50.6,640.4 C51.73,639.92 51.7,639.43 52.5,637.5 C53.3,635.57 54.43,632.33 55.4,628.8 C56.37,625.27 57.45,619.77 58.3,616.3 C59.15,612.83 59.58,611.35 60.5,608 C61.42,604.65 62.47,600.48 63.8,596.2 C65.13,591.92 66.77,586.15 68.5,582.3 C70.23,578.45 71.9,575.78 74.2,573.1 C76.5,570.42 79.03,568.03 82.3,566.2 C85.57,564.37 89.18,563.27 93.8,562.1 C98.42,560.93 104.98,559.75 110,559.2 C115.02,558.65 119.18,559.03 123.9,558.8 C128.62,558.57 132.05,558.17 138.3,557.8 C144.55,557.43 157.55,556.8 161.4,556.6" fill="none" stroke="#0000ff" stroke-width="2.5" stroke-linecap="butt" stroke-linejoin="round" stroke-dasharray="4.5,2"/>
<path d="M82.3,566.2 C84.22,565.52 89.18,563.27 93.8,562.1 C98.42,560.93 104.98,559.75 110,559.2 C115.02,558.65 119.18,559.03 123.9,558.8 C128.62,558.57 132.05,558.17 138.3,557.8 C144.55,557.43 157.55,556.8 161.4,556.6" fill="none" stroke="#0000ff" stroke-width="1.6" stroke-linecap="butt" stroke-linejoin="round" />
<line x1="219.4" y1="532" x2="219.4" y2="650.8" stroke="#1e1e1e" stroke-width="1.3" />
<line x1="219.4" y1="640.3" x2="219.4" y2="650.8" stroke="#000" stroke-width="2.2" />
<line x1="216.4" y1="640.3" x2="219.4" y2="640.3" stroke="#1e1e1e" stroke-width="1.1" />
<text transform="translate(213,643.4) scale(1.07,1)" font-size="8.9" text-anchor="end" font-weight="normal" fill="#231f20" >0</text>
<line x1="216.4" y1="619.24" x2="219.4" y2="619.24" stroke="#1e1e1e" stroke-width="1.1" />
<text transform="translate(213,622.34) scale(1.07,1)" font-size="8.9" text-anchor="end" font-weight="normal" fill="#231f20" >20</text>
<line x1="216.4" y1="598.18" x2="219.4" y2="598.18" stroke="#1e1e1e" stroke-width="1.1" />
<text transform="translate(213,601.28) scale(1.07,1)" font-size="8.9" text-anchor="end" font-weight="normal" fill="#231f20" >40</text>
<line x1="216.4" y1="577.12" x2="219.4" y2="577.12" stroke="#1e1e1e" stroke-width="1.1" />
<text transform="translate(213,580.22) scale(1.07,1)" font-size="8.9" text-anchor="end" font-weight="normal" fill="#231f20" >60</text>
<line x1="216.4" y1="556.06" x2="219.4" y2="556.06" stroke="#1e1e1e" stroke-width="1.1" />
<text transform="translate(213,559.16) scale(1.07,1)" font-size="8.9" text-anchor="end" font-weight="normal" fill="#231f20" >80</text>
<line x1="216.4" y1="535" x2="219.4" y2="535" stroke="#1e1e1e" stroke-width="1.1" />
<text transform="translate(213,538.1) scale(1.07,1)" font-size="8.9" text-anchor="end" font-weight="normal" fill="#231f20" >100</text>
<line x1="219.4" y1="650.8" x2="338.35" y2="650.8" stroke="#1e1e1e" stroke-width="1.5" />
<line x1="219.4" y1="650.8" x2="219.4" y2="653.8" stroke="#1e1e1e" stroke-width="1" />
<text transform="translate(219.4,665.4) scale(1.07,1)" font-size="8.9" text-anchor="middle" font-weight="normal" fill="#231f20" >0</text>
<line x1="242.65" y1="650.8" x2="242.65" y2="653.8" stroke="#1e1e1e" stroke-width="1" />
<text transform="translate(242.65,665.4) scale(1.07,1)" font-size="8.9" text-anchor="middle" font-weight="normal" fill="#231f20" >1</text>
<line x1="265.9" y1="650.8" x2="265.9" y2="653.8" stroke="#1e1e1e" stroke-width="1" />
<text transform="translate(265.9,665.4) scale(1.07,1)" font-size="8.9" text-anchor="middle" font-weight="normal" fill="#231f20" >2</text>
<line x1="289.15" y1="650.8" x2="289.15" y2="653.8" stroke="#1e1e1e" stroke-width="1" />
<text transform="translate(289.15,665.4) scale(1.07,1)" font-size="8.9" text-anchor="middle" font-weight="normal" fill="#231f20" >3</text>
<line x1="312.4" y1="650.8" x2="312.4" y2="653.8" stroke="#1e1e1e" stroke-width="1" />
<text transform="translate(312.4,665.4) scale(1.07,1)" font-size="8.9" text-anchor="middle" font-weight="normal" fill="#231f20" >4</text>
<line x1="335.65" y1="650.8" x2="335.65" y2="653.8" stroke="#1e1e1e" stroke-width="1" />
<text transform="translate(335.65,665.4) scale(1.07,1)" font-size="8.9" text-anchor="middle" font-weight="normal" fill="#231f20" >5</text>
<text x="278.7" y="679" font-size="9.2" text-anchor="middle" font-weight="normal" fill="#231f20" textLength="38.5" lengthAdjust="spacingAndGlyphs">Time (min)</text>
<text transform="translate(190.8,591.8) rotate(-90)" font-size="9.2" text-anchor="middle" fill="#231f20" textLength="54.5" lengthAdjust="spacingAndGlyphs">Aggregation (%)</text>
<text x="279" y="525.6" font-size="9.3" text-anchor="middle" font-weight="normal" fill="#231f20" >DPA<tspan font-size="7.0" dy="1.8">n-6</tspan></text>
<path d="M220.5,640.5 C221.08,640.75 222.58,640.75 224,642 C225.42,643.25 227.33,646.67 229,648 C230.67,649.33 232.37,649.92 234,650 C235.63,650.08 236.83,650.03 238.8,648.5 C240.77,646.97 243.1,643.12 245.8,640.8 C248.5,638.48 252.22,635.87 255,634.6 C257.78,633.33 260,633.47 262.5,633.2 C265,632.93 265.62,633.32 270,633 C274.38,632.68 282.55,631.73 288.8,631.3 C295.05,630.87 299.68,630.87 307.5,630.4 C315.32,629.93 331,628.82 335.7,628.5" fill="none" stroke="#cccccc" stroke-width="2.2" stroke-linecap="butt" stroke-linejoin="round" />
<path d="M220.5,640.5 C221.08,640.92 222.58,641.58 224,643 C225.42,644.42 227.33,647.67 229,649 C230.67,650.33 232.48,651.08 234,651 C235.52,650.92 236.13,649.3 238.1,648.5 C240.07,647.7 242.98,646.87 245.8,646.2 C248.62,645.53 250.97,645.1 255,644.5 C259.03,643.9 264.37,643.23 270,642.6 C275.63,641.97 282.55,641.33 288.8,640.7 C295.05,640.07 299.68,639.37 307.5,638.8 C315.32,638.23 331,637.55 335.7,637.3" fill="none" stroke="#2b7a0b" stroke-width="2.2" stroke-linecap="butt" stroke-linejoin="round" />
<path d="M220.5,639.6 C221.63,639.6 225.47,639.22 227.3,639.6 C229.13,639.98 230.42,640.8 231.5,641.9 C232.58,643 232.58,645.17 233.8,646.2 C235.02,647.23 237.57,648.37 238.8,648.1 C240.03,647.83 240.55,645.88 241.2,644.6 C241.85,643.32 242.27,641.87 242.7,640.4 C243.13,638.93 243.42,637.33 243.8,635.8 C244.18,634.27 244.55,633.52 245,631.2 C245.45,628.88 245.77,625.63 246.5,621.9 C247.23,618.17 248.13,614.12 249.4,608.8 C250.67,603.48 252.22,595.17 254.1,590 C255.98,584.83 258.05,580.67 260.7,577.8 C263.35,574.93 266.88,574.35 270,572.8 C273.12,571.25 276.27,569.7 279.4,568.5 C282.53,567.3 284.12,566.38 288.8,565.6 C293.48,564.82 299.68,564.48 307.5,563.8 C315.32,563.12 331,561.88 335.7,561.5" fill="none" stroke="#ff0000" stroke-width="2.1" stroke-linecap="round" stroke-linejoin="round" stroke-dasharray="0.01,3.4"/>
<path d="M220.5,640.4 C220.87,640.4 221.7,639.83 222.7,640.4 C223.7,640.97 225.42,642.33 226.5,643.8 C227.58,645.27 227.98,648.03 229.2,649.2 C230.42,650.37 232.58,651.43 233.8,650.8 C235.02,650.17 235.78,647.33 236.5,645.4 C237.22,643.47 237.58,641.25 238.1,639.2 C238.62,637.15 239.03,635.78 239.6,633.1 C240.17,630.42 240.5,628.45 241.5,623.1 C242.5,617.75 244.13,607.6 245.6,601 C247.07,594.4 248.42,588.62 250.3,583.5 C252.18,578.38 254.23,573.75 256.9,570.3 C259.57,566.85 262.45,564.85 266.3,562.8 C270.15,560.75 276.25,558.97 280,558 C283.75,557.03 284.22,557.45 288.8,557 C293.38,556.55 299.68,555.73 307.5,555.3 C315.32,554.87 331,554.55 335.7,554.4" fill="none" stroke="#0000ff" stroke-width="2.5" stroke-linecap="butt" stroke-linejoin="round" stroke-dasharray="4.5,2"/>
<path d="M266.3,562.8 C268.58,562 276.25,558.97 280,558 C283.75,557.03 284.22,557.45 288.8,557 C293.38,556.55 299.68,555.73 307.5,555.3 C315.32,554.87 331,554.55 335.7,554.4" fill="none" stroke="#0000ff" stroke-width="1.6" stroke-linecap="butt" stroke-linejoin="round" />
<path d="M220.5,640.5 C220.87,640.67 221.95,640.68 222.7,641.5 C223.45,642.32 224.17,643.98 225,645.4 C225.83,646.82 226.8,649.1 227.7,650 C228.6,650.9 229.5,651.32 230.4,650.8 C231.3,650.28 232.33,648.83 233.1,646.9 C233.87,644.97 234.3,642.4 235,639.2 C235.7,636 236.67,630.9 237.3,627.7 C237.93,624.5 238.03,625.33 238.8,620 C239.57,614.67 240.77,602.25 241.9,595.7 C243.03,589.15 244.03,585.08 245.6,580.7 C247.17,576.32 249.1,572.53 251.3,569.4 C253.5,566.27 255.98,563.93 258.8,561.9 C261.62,559.87 264.67,558.6 268.2,557.2 C271.73,555.8 276.57,554.28 280,553.5 C283.43,552.72 284.22,552.98 288.8,552.5 C293.38,552.02 299.68,551.07 307.5,550.6 C315.32,550.13 331,549.85 335.7,549.7" fill="none" stroke="#000000" stroke-width="2.5" stroke-linecap="butt" stroke-linejoin="round" />
<line x1="386.9" y1="292.5" x2="386.9" y2="410.8" stroke="#1e1e1e" stroke-width="1.2" />
<line x1="383.7" y1="410.6" x2="386.9" y2="410.6" stroke="#1e1e1e" stroke-width="1" />
<text transform="translate(380.7,413.7) scale(1.04,1)" font-size="8.9" text-anchor="end" font-weight="normal" fill="#231f20" >0</text>
<line x1="383.7" y1="387.58" x2="386.9" y2="387.58" stroke="#1e1e1e" stroke-width="1" />
<text transform="translate(380.7,390.68) scale(1.04,1)" font-size="8.9" text-anchor="end" font-weight="normal" fill="#231f20" >20</text>
<line x1="383.7" y1="364.56" x2="386.9" y2="364.56" stroke="#1e1e1e" stroke-width="1" />
<text transform="translate(380.7,367.66) scale(1.04,1)" font-size="8.9" text-anchor="end" font-weight="normal" fill="#231f20" >40</text>
<line x1="383.7" y1="341.54" x2="386.9" y2="341.54" stroke="#1e1e1e" stroke-width="1" />
<text transform="translate(380.7,344.64) scale(1.04,1)" font-size="8.9" text-anchor="end" font-weight="normal" fill="#231f20" >60</text>
<line x1="383.7" y1="318.52" x2="386.9" y2="318.52" stroke="#1e1e1e" stroke-width="1" />
<text transform="translate(380.7,321.62) scale(1.04,1)" font-size="8.9" text-anchor="end" font-weight="normal" fill="#231f20" >80</text>
<line x1="383.7" y1="295.5" x2="386.9" y2="295.5" stroke="#1e1e1e" stroke-width="1" />
<text transform="translate(380.7,298.6) scale(1.04,1)" font-size="8.9" text-anchor="end" font-weight="normal" fill="#231f20" >100</text>
<line x1="386.9" y1="410.8" x2="505.52" y2="410.8" stroke="#1e1e1e" stroke-width="1.2" />
<line x1="387.6" y1="410.8" x2="387.6" y2="414" stroke="#1e1e1e" stroke-width="1" />
<text x="387.8" y="429.4" font-size="8.8" text-anchor="middle" font-weight="normal" fill="#231f20" >10<tspan font-size="7.0" dy="-3.4">-9</tspan></text>
<line x1="396.25" y1="410.8" x2="396.25" y2="412.6" stroke="#1e1e1e" stroke-width="0.8" />
<line x1="401.31" y1="410.8" x2="401.31" y2="412.6" stroke="#1e1e1e" stroke-width="0.8" />
<line x1="404.9" y1="410.8" x2="404.9" y2="412.6" stroke="#1e1e1e" stroke-width="0.8" />
<line x1="407.68" y1="410.8" x2="407.68" y2="412.6" stroke="#1e1e1e" stroke-width="0.8" />
<line x1="409.96" y1="410.8" x2="409.96" y2="412.6" stroke="#1e1e1e" stroke-width="0.8" />
<line x1="411.88" y1="410.8" x2="411.88" y2="412.6" stroke="#1e1e1e" stroke-width="0.8" />
<line x1="413.55" y1="410.8" x2="413.55" y2="412.6" stroke="#1e1e1e" stroke-width="0.8" />
<line x1="415.02" y1="410.8" x2="415.02" y2="412.6" stroke="#1e1e1e" stroke-width="0.8" />
<line x1="416.33" y1="410.8" x2="416.33" y2="414" stroke="#1e1e1e" stroke-width="1" />
<text x="416.53" y="429.4" font-size="8.8" text-anchor="middle" font-weight="normal" fill="#231f20" >10<tspan font-size="7.0" dy="-3.4">-8</tspan></text>
<line x1="424.98" y1="410.8" x2="424.98" y2="412.6" stroke="#1e1e1e" stroke-width="0.8" />
<line x1="430.04" y1="410.8" x2="430.04" y2="412.6" stroke="#1e1e1e" stroke-width="0.8" />
<line x1="433.63" y1="410.8" x2="433.63" y2="412.6" stroke="#1e1e1e" stroke-width="0.8" />
<line x1="436.41" y1="410.8" x2="436.41" y2="412.6" stroke="#1e1e1e" stroke-width="0.8" />
<line x1="438.69" y1="410.8" x2="438.69" y2="412.6" stroke="#1e1e1e" stroke-width="0.8" />
<line x1="440.61" y1="410.8" x2="440.61" y2="412.6" stroke="#1e1e1e" stroke-width="0.8" />
<line x1="442.28" y1="410.8" x2="442.28" y2="412.6" stroke="#1e1e1e" stroke-width="0.8" />
<line x1="443.75" y1="410.8" x2="443.75" y2="412.6" stroke="#1e1e1e" stroke-width="0.8" />
<line x1="445.06" y1="410.8" x2="445.06" y2="414" stroke="#1e1e1e" stroke-width="1" />
<text x="445.26" y="429.4" font-size="8.8" text-anchor="middle" font-weight="normal" fill="#231f20" >10<tspan font-size="7.0" dy="-3.4">-7</tspan></text>
<line x1="453.71" y1="410.8" x2="453.71" y2="412.6" stroke="#1e1e1e" stroke-width="0.8" />
<line x1="458.77" y1="410.8" x2="458.77" y2="412.6" stroke="#1e1e1e" stroke-width="0.8" />
<line x1="462.36" y1="410.8" x2="462.36" y2="412.6" stroke="#1e1e1e" stroke-width="0.8" />
<line x1="465.14" y1="410.8" x2="465.14" y2="412.6" stroke="#1e1e1e" stroke-width="0.8" />
<line x1="467.42" y1="410.8" x2="467.42" y2="412.6" stroke="#1e1e1e" stroke-width="0.8" />
<line x1="469.34" y1="410.8" x2="469.34" y2="412.6" stroke="#1e1e1e" stroke-width="0.8" />
<line x1="471.01" y1="410.8" x2="471.01" y2="412.6" stroke="#1e1e1e" stroke-width="0.8" />
<line x1="472.48" y1="410.8" x2="472.48" y2="412.6" stroke="#1e1e1e" stroke-width="0.8" />
<line x1="473.79" y1="410.8" x2="473.79" y2="414" stroke="#1e1e1e" stroke-width="1" />
<text x="473.99" y="429.4" font-size="8.8" text-anchor="middle" font-weight="normal" fill="#231f20" >10<tspan font-size="7.0" dy="-3.4">-6</tspan></text>
<line x1="482.44" y1="410.8" x2="482.44" y2="412.6" stroke="#1e1e1e" stroke-width="0.8" />
<line x1="487.5" y1="410.8" x2="487.5" y2="412.6" stroke="#1e1e1e" stroke-width="0.8" />
<line x1="491.09" y1="410.8" x2="491.09" y2="412.6" stroke="#1e1e1e" stroke-width="0.8" />
<line x1="493.87" y1="410.8" x2="493.87" y2="412.6" stroke="#1e1e1e" stroke-width="0.8" />
<line x1="496.15" y1="410.8" x2="496.15" y2="412.6" stroke="#1e1e1e" stroke-width="0.8" />
<line x1="498.07" y1="410.8" x2="498.07" y2="412.6" stroke="#1e1e1e" stroke-width="0.8" />
<line x1="499.74" y1="410.8" x2="499.74" y2="412.6" stroke="#1e1e1e" stroke-width="0.8" />
<line x1="501.21" y1="410.8" x2="501.21" y2="412.6" stroke="#1e1e1e" stroke-width="0.8" />
<line x1="502.52" y1="410.8" x2="502.52" y2="414" stroke="#1e1e1e" stroke-width="1" />
<text x="502.72" y="429.4" font-size="8.8" text-anchor="middle" font-weight="normal" fill="#231f20" >10<tspan font-size="7.0" dy="-3.4">-5</tspan></text>
<text x="444.6" y="442.3" font-size="9.4" text-anchor="middle" font-weight="normal" fill="#231f20" textLength="54.5" lengthAdjust="spacingAndGlyphs">Log [DPA] (M)</text>
<text transform="translate(445.9,287) scale(0.93,1)" font-size="9.9" text-anchor="middle" font-weight="normal" fill="#231f20" >Thrombin</text>
<text transform="translate(362.6,351) rotate(-90)" font-size="9.2" text-anchor="middle" fill="#231f20" textLength="72" lengthAdjust="spacingAndGlyphs">Final aggregation (%)</text>
<path d="" fill="none" stroke="#2d5597" stroke-width="1.2" stroke-linecap="butt" stroke-linejoin="round" />
<path d="M415.9,316 C418.25,316.03 425.98,316.03 430,316.2 C434.02,316.37 436.98,316.5 440,317 C443.02,317.5 445.18,318.27 448.1,319.2 C451.02,320.13 454.37,320.92 457.5,322.6 C460.63,324.28 463.98,326.72 466.9,329.3 C469.82,331.88 472.75,335.18 475,338.1 C477.25,341.02 478.6,344.12 480.4,346.8 C482.2,349.48 483.57,351.5 485.8,354.2 C488.03,356.9 492.47,361.53 493.8,363" fill="none" stroke="#a8002c" stroke-width="1.3" stroke-linecap="butt" stroke-linejoin="round" />
<line x1="444.7" y1="313.8" x2="444.7" y2="317.4" stroke="#333" stroke-width="1" />
<line x1="442.1" y1="313.8" x2="447.3" y2="313.8" stroke="#333" stroke-width="1" />
<line x1="442.1" y1="317.4" x2="447.3" y2="317.4" stroke="#333" stroke-width="1" />
<line x1="485.1" y1="314.4" x2="485.1" y2="321.4" stroke="#333" stroke-width="1" />
<line x1="482.5" y1="314.4" x2="487.7" y2="314.4" stroke="#333" stroke-width="1" />
<line x1="482.5" y1="321.4" x2="487.7" y2="321.4" stroke="#333" stroke-width="1" />
<line x1="493.6" y1="327.4" x2="493.6" y2="334.8" stroke="#333" stroke-width="1" />
<line x1="491" y1="327.4" x2="496.2" y2="327.4" stroke="#333" stroke-width="1" />
<line x1="491" y1="334.8" x2="496.2" y2="334.8" stroke="#333" stroke-width="1" />
<line x1="427.3" y1="315.3" x2="427.3" y2="318.9" stroke="#333" stroke-width="1" />
<line x1="424.7" y1="315.3" x2="429.9" y2="315.3" stroke="#333" stroke-width="1" />
<line x1="424.7" y1="318.9" x2="429.9" y2="318.9" stroke="#333" stroke-width="1" />
<line x1="464.9" y1="319.4" x2="464.9" y2="327.2" stroke="#333" stroke-width="1" />
<line x1="462.3" y1="319.4" x2="467.5" y2="319.4" stroke="#333" stroke-width="1" />
<line x1="462.3" y1="327.2" x2="467.5" y2="327.2" stroke="#333" stroke-width="1" />
<line x1="473.6" y1="339.4" x2="473.6" y2="350.8" stroke="#333" stroke-width="1" />
<line x1="471" y1="339.4" x2="476.2" y2="339.4" stroke="#333" stroke-width="1" />
<line x1="471" y1="350.8" x2="476.2" y2="350.8" stroke="#333" stroke-width="1" />
<line x1="485.1" y1="338" x2="485.1" y2="357" stroke="#333" stroke-width="1" />
<line x1="482.5" y1="338" x2="487.7" y2="338" stroke="#333" stroke-width="1" />
<line x1="482.5" y1="357" x2="487.7" y2="357" stroke="#333" stroke-width="1" />
<line x1="493.6" y1="357.8" x2="493.6" y2="368.2" stroke="#333" stroke-width="1" />
<line x1="491" y1="357.8" x2="496.2" y2="357.8" stroke="#333" stroke-width="1" />
<line x1="491" y1="368.2" x2="496.2" y2="368.2" stroke="#333" stroke-width="1" />
<circle cx="415.9" cy="317.9" r="3.3" fill="#a8002c"/>
<circle cx="427.3" cy="317.1" r="3.3" fill="#a8002c"/>
<circle cx="436" cy="317.3" r="3.3" fill="#a8002c"/>
<circle cx="444.7" cy="318.5" r="3.3" fill="#a8002c"/>
<circle cx="456.5" cy="317.1" r="3.3" fill="#a8002c"/>
<circle cx="464.9" cy="323.3" r="3.3" fill="#a8002c"/>
<circle cx="473.6" cy="345.1" r="3.3" fill="#a8002c"/>
<circle cx="485.1" cy="347.5" r="3.3" fill="#a8002c"/>
<circle cx="493.6" cy="363" r="3.3" fill="#a8002c"/>
<circle cx="415.9" cy="313.3" r="2.8" fill="#fff" stroke="#2d5597" stroke-width="1.3"/>
<circle cx="427.3" cy="312.5" r="2.8" fill="#fff" stroke="#2d5597" stroke-width="1.3"/>
<circle cx="436" cy="314.1" r="2.8" fill="#fff" stroke="#2d5597" stroke-width="1.3"/>
<circle cx="444.7" cy="315.6" r="2.8" fill="#fff" stroke="#2d5597" stroke-width="1.3"/>
<circle cx="456.5" cy="312.1" r="2.8" fill="#fff" stroke="#2d5597" stroke-width="1.3"/>
<circle cx="464.9" cy="314.8" r="2.8" fill="#fff" stroke="#2d5597" stroke-width="1.3"/>
<circle cx="473.4" cy="314.5" r="2.8" fill="#fff" stroke="#2d5597" stroke-width="1.3"/>
<circle cx="485.1" cy="317.9" r="2.8" fill="#fff" stroke="#2d5597" stroke-width="1.3"/>
<circle cx="493.6" cy="331.1" r="2.8" fill="#fff" stroke="#2d5597" stroke-width="1.3"/>
<circle cx="402.5" cy="375.6" r="2.8" fill="#fff" stroke="#2d5597" stroke-width="1.3"/>
<line x1="397.2" y1="389" x2="407.8" y2="389" stroke="#a8002c" stroke-width="1.3" />
<circle cx="402.5" cy="389" r="3.3" fill="#a8002c"/>
<text x="411.5" y="378.6" font-size="9.0" text-anchor="start" font-weight="normal" fill="#231f20" >DPA<tspan font-size="7.0" dy="1.8">n-3</tspan></text>
<text x="411.5" y="392" font-size="9.0" text-anchor="start" font-weight="normal" fill="#231f20" >DPA<tspan font-size="7.0" dy="1.8">n-6</tspan></text>
<line x1="386.5" y1="531.5" x2="386.5" y2="649.8" stroke="#1e1e1e" stroke-width="1.2" />
<line x1="383.3" y1="650" x2="386.5" y2="650" stroke="#1e1e1e" stroke-width="1" />
<text transform="translate(380.3,653.1) scale(1.04,1)" font-size="8.9" text-anchor="end" font-weight="normal" fill="#231f20" >0</text>
<line x1="383.3" y1="626.9" x2="386.5" y2="626.9" stroke="#1e1e1e" stroke-width="1" />
<text transform="translate(380.3,630) scale(1.04,1)" font-size="8.9" text-anchor="end" font-weight="normal" fill="#231f20" >20</text>
<line x1="383.3" y1="603.8" x2="386.5" y2="603.8" stroke="#1e1e1e" stroke-width="1" />
<text transform="translate(380.3,606.9) scale(1.04,1)" font-size="8.9" text-anchor="end" font-weight="normal" fill="#231f20" >40</text>
<line x1="383.3" y1="580.7" x2="386.5" y2="580.7" stroke="#1e1e1e" stroke-width="1" />
<text transform="translate(380.3,583.8) scale(1.04,1)" font-size="8.9" text-anchor="end" font-weight="normal" fill="#231f20" >60</text>
<line x1="383.3" y1="557.6" x2="386.5" y2="557.6" stroke="#1e1e1e" stroke-width="1" />
<text transform="translate(380.3,560.7) scale(1.04,1)" font-size="8.9" text-anchor="end" font-weight="normal" fill="#231f20" >80</text>
<line x1="383.3" y1="534.5" x2="386.5" y2="534.5" stroke="#1e1e1e" stroke-width="1" />
<text transform="translate(380.3,537.6) scale(1.04,1)" font-size="8.9" text-anchor="end" font-weight="normal" fill="#231f20" >100</text>
<line x1="386.5" y1="649.8" x2="505.52" y2="649.8" stroke="#1e1e1e" stroke-width="1.2" />
<line x1="387.6" y1="649.8" x2="387.6" y2="653" stroke="#1e1e1e" stroke-width="1" />
<text x="387.8" y="668.4" font-size="8.8" text-anchor="middle" font-weight="normal" fill="#231f20" >10<tspan font-size="7.0" dy="-3.4">-9</tspan></text>
<line x1="396.25" y1="649.8" x2="396.25" y2="651.6" stroke="#1e1e1e" stroke-width="0.8" />
<line x1="401.31" y1="649.8" x2="401.31" y2="651.6" stroke="#1e1e1e" stroke-width="0.8" />
<line x1="404.9" y1="649.8" x2="404.9" y2="651.6" stroke="#1e1e1e" stroke-width="0.8" />
<line x1="407.68" y1="649.8" x2="407.68" y2="651.6" stroke="#1e1e1e" stroke-width="0.8" />
<line x1="409.96" y1="649.8" x2="409.96" y2="651.6" stroke="#1e1e1e" stroke-width="0.8" />
<line x1="411.88" y1="649.8" x2="411.88" y2="651.6" stroke="#1e1e1e" stroke-width="0.8" />
<line x1="413.55" y1="649.8" x2="413.55" y2="651.6" stroke="#1e1e1e" stroke-width="0.8" />
<line x1="415.02" y1="649.8" x2="415.02" y2="651.6" stroke="#1e1e1e" stroke-width="0.8" />
<line x1="416.33" y1="649.8" x2="416.33" y2="653" stroke="#1e1e1e" stroke-width="1" />
<text x="416.53" y="668.4" font-size="8.8" text-anchor="middle" font-weight="normal" fill="#231f20" >10<tspan font-size="7.0" dy="-3.4">-8</tspan></text>
<line x1="424.98" y1="649.8" x2="424.98" y2="651.6" stroke="#1e1e1e" stroke-width="0.8" />
<line x1="430.04" y1="649.8" x2="430.04" y2="651.6" stroke="#1e1e1e" stroke-width="0.8" />
<line x1="433.63" y1="649.8" x2="433.63" y2="651.6" stroke="#1e1e1e" stroke-width="0.8" />
<line x1="436.41" y1="649.8" x2="436.41" y2="651.6" stroke="#1e1e1e" stroke-width="0.8" />
<line x1="438.69" y1="649.8" x2="438.69" y2="651.6" stroke="#1e1e1e" stroke-width="0.8" />
<line x1="440.61" y1="649.8" x2="440.61" y2="651.6" stroke="#1e1e1e" stroke-width="0.8" />
<line x1="442.28" y1="649.8" x2="442.28" y2="651.6" stroke="#1e1e1e" stroke-width="0.8" />
<line x1="443.75" y1="649.8" x2="443.75" y2="651.6" stroke="#1e1e1e" stroke-width="0.8" />
<line x1="445.06" y1="649.8" x2="445.06" y2="653" stroke="#1e1e1e" stroke-width="1" />
<text x="445.26" y="668.4" font-size="8.8" text-anchor="middle" font-weight="normal" fill="#231f20" >10<tspan font-size="7.0" dy="-3.4">-7</tspan></text>
<line x1="453.71" y1="649.8" x2="453.71" y2="651.6" stroke="#1e1e1e" stroke-width="0.8" />
<line x1="458.77" y1="649.8" x2="458.77" y2="651.6" stroke="#1e1e1e" stroke-width="0.8" />
<line x1="462.36" y1="649.8" x2="462.36" y2="651.6" stroke="#1e1e1e" stroke-width="0.8" />
<line x1="465.14" y1="649.8" x2="465.14" y2="651.6" stroke="#1e1e1e" stroke-width="0.8" />
<line x1="467.42" y1="649.8" x2="467.42" y2="651.6" stroke="#1e1e1e" stroke-width="0.8" />
<line x1="469.34" y1="649.8" x2="469.34" y2="651.6" stroke="#1e1e1e" stroke-width="0.8" />
<line x1="471.01" y1="649.8" x2="471.01" y2="651.6" stroke="#1e1e1e" stroke-width="0.8" />
<line x1="472.48" y1="649.8" x2="472.48" y2="651.6" stroke="#1e1e1e" stroke-width="0.8" />
<line x1="473.79" y1="649.8" x2="473.79" y2="653" stroke="#1e1e1e" stroke-width="1" />
<text x="473.99" y="668.4" font-size="8.8" text-anchor="middle" font-weight="normal" fill="#231f20" >10<tspan font-size="7.0" dy="-3.4">-6</tspan></text>
<line x1="482.44" y1="649.8" x2="482.44" y2="651.6" stroke="#1e1e1e" stroke-width="0.8" />
<line x1="487.5" y1="649.8" x2="487.5" y2="651.6" stroke="#1e1e1e" stroke-width="0.8" />
<line x1="491.09" y1="649.8" x2="491.09" y2="651.6" stroke="#1e1e1e" stroke-width="0.8" />
<line x1="493.87" y1="649.8" x2="493.87" y2="651.6" stroke="#1e1e1e" stroke-width="0.8" />
<line x1="496.15" y1="649.8" x2="496.15" y2="651.6" stroke="#1e1e1e" stroke-width="0.8" />
<line x1="498.07" y1="649.8" x2="498.07" y2="651.6" stroke="#1e1e1e" stroke-width="0.8" />
<line x1="499.74" y1="649.8" x2="499.74" y2="651.6" stroke="#1e1e1e" stroke-width="0.8" />
<line x1="501.21" y1="649.8" x2="501.21" y2="651.6" stroke="#1e1e1e" stroke-width="0.8" />
<line x1="502.52" y1="649.8" x2="502.52" y2="653" stroke="#1e1e1e" stroke-width="1" />
<text x="502.72" y="668.4" font-size="8.8" text-anchor="middle" font-weight="normal" fill="#231f20" >10<tspan font-size="7.0" dy="-3.4">-5</tspan></text>
<text x="444.6" y="681.3" font-size="9.4" text-anchor="middle" font-weight="normal" fill="#231f20" textLength="54.5" lengthAdjust="spacingAndGlyphs">Log [DPA] (M)</text>
<text transform="translate(444.4,526.3) scale(0.93,1)" font-size="9.9" text-anchor="middle" font-weight="normal" fill="#231f20" >Collagen</text>
<text transform="translate(362.6,590.9) rotate(-90)" font-size="9.2" text-anchor="middle" fill="#231f20" textLength="72.5" lengthAdjust="spacingAndGlyphs">Final Aggregation (%)</text>
<path d="M415.4,556.5 C417.2,556.38 421.85,555.53 426.2,555.8 C430.55,556.07 436.07,556.93 441.5,558.1 C446.93,559.27 453.42,559.35 458.8,562.8 C464.18,566.25 469.73,571.77 473.8,578.8 C477.87,585.83 480.55,596.87 483.2,605 C485.85,613.13 487.83,621.03 489.7,627.6 C491.57,634.17 493.62,641.6 494.4,644.4" fill="none" stroke="#2d5597" stroke-width="1.2" stroke-linecap="butt" stroke-linejoin="round" />
<path d="M415.4,564.2 C417.2,564.53 422.35,565.17 426.2,566.2 C430.05,567.23 434.7,567.77 438.5,570.4 C442.3,573.03 445.62,577 449,582 C452.38,587 455.62,593.75 458.8,600.4 C461.98,607.05 465.3,615.5 468.1,621.9 C470.9,628.3 473.08,635.05 475.6,638.8 C478.12,642.55 480.07,643.4 483.2,644.4 C486.33,645.4 492.53,644.73 494.4,644.8" fill="none" stroke="#a8002c" stroke-width="1.3" stroke-linecap="butt" stroke-linejoin="round" />
<line x1="415.4" y1="555.8" x2="415.4" y2="559.8" stroke="#333" stroke-width="1" />
<line x1="412.8" y1="555.8" x2="418" y2="555.8" stroke="#333" stroke-width="1" />
<line x1="412.8" y1="559.8" x2="418" y2="559.8" stroke="#333" stroke-width="1" />
<line x1="426.9" y1="550.9" x2="426.9" y2="556.9" stroke="#333" stroke-width="1" />
<line x1="424.3" y1="550.9" x2="429.5" y2="550.9" stroke="#333" stroke-width="1" />
<line x1="424.3" y1="556.9" x2="429.5" y2="556.9" stroke="#333" stroke-width="1" />
<line x1="435.4" y1="560" x2="435.4" y2="570" stroke="#333" stroke-width="1" />
<line x1="432.8" y1="560" x2="438" y2="560" stroke="#333" stroke-width="1" />
<line x1="432.8" y1="570" x2="438" y2="570" stroke="#333" stroke-width="1" />
<line x1="444.1" y1="557.9" x2="444.1" y2="565.9" stroke="#333" stroke-width="1" />
<line x1="441.5" y1="557.9" x2="446.7" y2="557.9" stroke="#333" stroke-width="1" />
<line x1="441.5" y1="565.9" x2="446.7" y2="565.9" stroke="#333" stroke-width="1" />
<line x1="464" y1="561.2" x2="464" y2="568.2" stroke="#333" stroke-width="1" />
<line x1="461.4" y1="561.2" x2="466.6" y2="561.2" stroke="#333" stroke-width="1" />
<line x1="461.4" y1="568.2" x2="466.6" y2="568.2" stroke="#333" stroke-width="1" />
<line x1="473.4" y1="564.3" x2="473.4" y2="581.3" stroke="#333" stroke-width="1" />
<line x1="470.8" y1="564.3" x2="476" y2="564.3" stroke="#333" stroke-width="1" />
<line x1="470.8" y1="581.3" x2="476" y2="581.3" stroke="#333" stroke-width="1" />
<line x1="484.7" y1="613.4" x2="484.7" y2="627.4" stroke="#333" stroke-width="1" />
<line x1="482.1" y1="613.4" x2="487.3" y2="613.4" stroke="#333" stroke-width="1" />
<line x1="482.1" y1="627.4" x2="487.3" y2="627.4" stroke="#333" stroke-width="1" />
<line x1="415.4" y1="560" x2="415.4" y2="570" stroke="#333" stroke-width="1" />
<line x1="412.8" y1="560" x2="418" y2="560" stroke="#333" stroke-width="1" />
<line x1="412.8" y1="570" x2="418" y2="570" stroke="#333" stroke-width="1" />
<line x1="426.9" y1="567.6" x2="426.9" y2="588.6" stroke="#333" stroke-width="1" />
<line x1="424.3" y1="567.6" x2="429.5" y2="567.6" stroke="#333" stroke-width="1" />
<line x1="424.3" y1="588.6" x2="429.5" y2="588.6" stroke="#333" stroke-width="1" />
<line x1="435.7" y1="560.4" x2="435.7" y2="576.4" stroke="#333" stroke-width="1" />
<line x1="433.1" y1="560.4" x2="438.3" y2="560.4" stroke="#333" stroke-width="1" />
<line x1="433.1" y1="576.4" x2="438.3" y2="576.4" stroke="#333" stroke-width="1" />
<line x1="444.3" y1="566.5" x2="444.3" y2="581.9" stroke="#333" stroke-width="1" />
<line x1="441.7" y1="566.5" x2="446.9" y2="566.5" stroke="#333" stroke-width="1" />
<line x1="441.7" y1="581.9" x2="446.9" y2="581.9" stroke="#333" stroke-width="1" />
<line x1="455.9" y1="581.5" x2="455.9" y2="613.5" stroke="#333" stroke-width="1" />
<line x1="453.3" y1="581.5" x2="458.5" y2="581.5" stroke="#333" stroke-width="1" />
<line x1="453.3" y1="613.5" x2="458.5" y2="613.5" stroke="#333" stroke-width="1" />
<line x1="464" y1="597.2" x2="464" y2="621.2" stroke="#333" stroke-width="1" />
<line x1="461.4" y1="597.2" x2="466.6" y2="597.2" stroke="#333" stroke-width="1" />
<line x1="461.4" y1="621.2" x2="466.6" y2="621.2" stroke="#333" stroke-width="1" />
<line x1="473.4" y1="631.6" x2="473.4" y2="641.6" stroke="#333" stroke-width="1" />
<line x1="470.8" y1="631.6" x2="476" y2="631.6" stroke="#333" stroke-width="1" />
<line x1="470.8" y1="641.6" x2="476" y2="641.6" stroke="#333" stroke-width="1" />
<line x1="484.7" y1="638.9" x2="484.7" y2="646.3" stroke="#333" stroke-width="1" />
<line x1="482.1" y1="638.9" x2="487.3" y2="638.9" stroke="#333" stroke-width="1" />
<line x1="482.1" y1="646.3" x2="487.3" y2="646.3" stroke="#333" stroke-width="1" />
<circle cx="415.4" cy="565" r="3.3" fill="#a8002c"/>
<circle cx="426.9" cy="578.1" r="3.3" fill="#a8002c"/>
<circle cx="435.7" cy="568.4" r="3.3" fill="#a8002c"/>
<circle cx="444.3" cy="574.2" r="3.3" fill="#a8002c"/>
<circle cx="455.9" cy="597.5" r="3.3" fill="#a8002c"/>
<circle cx="464" cy="609.2" r="3.3" fill="#a8002c"/>
<circle cx="473.4" cy="636.6" r="3.3" fill="#a8002c"/>
<circle cx="484.7" cy="642.6" r="3.3" fill="#a8002c"/>
<circle cx="493.5" cy="644.4" r="3.3" fill="#a8002c"/>
<circle cx="415.4" cy="557.8" r="2.8" fill="#fff" stroke="#2d5597" stroke-width="1.3"/>
<circle cx="426.9" cy="553.9" r="2.8" fill="#fff" stroke="#2d5597" stroke-width="1.3"/>
<circle cx="435.4" cy="565" r="2.8" fill="#fff" stroke="#2d5597" stroke-width="1.3"/>
<circle cx="444.1" cy="561.9" r="2.8" fill="#fff" stroke="#2d5597" stroke-width="1.3"/>
<circle cx="455.9" cy="554" r="2.8" fill="#fff" stroke="#2d5597" stroke-width="1.3"/>
<circle cx="464" cy="564.7" r="2.8" fill="#fff" stroke="#2d5597" stroke-width="1.3"/>
<circle cx="473.4" cy="572.8" r="2.8" fill="#fff" stroke="#2d5597" stroke-width="1.3"/>
<circle cx="484.7" cy="620.4" r="2.8" fill="#fff" stroke="#2d5597" stroke-width="1.3"/>
<circle cx="493.5" cy="639.4" r="2.8" fill="#fff" stroke="#2d5597" stroke-width="1.3"/>
<line x1="397.2" y1="614.9" x2="407.6" y2="614.9" stroke="#2d5597" stroke-width="1.2" />
<circle cx="402.5" cy="614.9" r="2.8" fill="#fff" stroke="#2d5597" stroke-width="1.3"/>
<line x1="397.2" y1="628.7" x2="407.8" y2="628.7" stroke="#a8002c" stroke-width="1.3" />
<circle cx="402.5" cy="628.7" r="3.3" fill="#a8002c"/>
<text x="411.5" y="617.9" font-size="9.0" text-anchor="start" font-weight="normal" fill="#231f20" >DPA<tspan font-size="7.0" dy="1.8">n-3</tspan></text>
<text x="411.5" y="631.7" font-size="9.0" text-anchor="start" font-weight="normal" fill="#231f20" >DPA<tspan font-size="7.0" dy="1.8">n-6</tspan></text>
</svg>
</body></html>
